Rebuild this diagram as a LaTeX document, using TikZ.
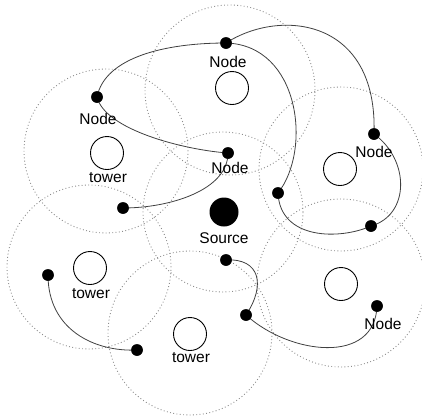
\documentclass[tikz,border=0pt]{standalone}
\usepackage{fontspec}
\setmainfont{Liberation Sans}
\begin{document}
\begin{tikzpicture}[x=1pt,y=-1pt,
  cover/.style={circle,draw=black!45,line width=0.9pt,dash pattern=on 0.9pt off 2.4pt,inner sep=0pt},
  link/.style={draw=black!75,line width=0.8pt},
  dotnode/.style={circle,fill=black,inner sep=0pt,minimum size=11.5pt},
  srcnode/.style={circle,fill=black,inner sep=0pt,minimum size=29pt},
  towernode/.style={circle,draw=black,line width=0.9pt,fill=white,inner sep=0pt,minimum size=33pt},
  lbl/.style={inner sep=0pt,font=\fontsize{15.5pt}{18pt}\selectfont}]
\useasboundingbox (0,0) rectangle (422,416);
% coverage areas
\node[cover,minimum size=170pt] (cA) at (230,90) {};
\node[cover,minimum size=164pt] (cT2) at (106,151) {};
\node[cover,minimum size=164pt] (cT3) at (341,169) {};
\node[cover,minimum size=160pt] (cS) at (223,212) {};
\node[cover,minimum size=164pt] (cT4) at (89,267) {};
\node[cover,minimum size=164pt] (cT5) at (190,333) {};
\node[cover,minimum size=168pt] (cT6) at (341,283) {};
% towers
\node[towernode] (t1) at (232,88) {};
\node[towernode] (t2) at (107,153) {};
\node[towernode] (t3) at (340,169) {};
\node[towernode] (t4) at (90,268) {};
\node[towernode] (t5) at (190,334) {};
\node[towernode] (t6) at (341,284) {};
% nodes
\node[dotnode] (d1) at (226,43) {};
\node[dotnode] (d2) at (97,97) {};
\node[dotnode] (d3) at (228,153) {};
\node[dotnode] (d4) at (374,134) {};
\node[dotnode] (d5) at (123,208) {};
\node[dotnode] (d6) at (278,193) {};
\node[dotnode] (d7) at (371,226) {};
\node[dotnode] (d8) at (226,260) {};
\node[dotnode] (d9) at (48,275) {};
\node[dotnode] (d10) at (246,315) {};
\node[dotnode] (d11) at (137,350) {};
\node[dotnode] (d12) at (377,306) {};
\node[srcnode] (src) at (224,212) {};
% connectors
\draw[link] (d2.center) .. controls (105,57) and (166,43) .. (d1.center);
\draw[link] (d1.center) .. controls (280,8) and (378,18) .. (d4.center);
\draw[link] (d1.center) .. controls (300,45) and (312,150) .. (d6.center);
\draw[link] (d2.center) .. controls (105,130) and (185,150) .. (d3.center);
\draw[link] (d3.center) .. controls (228,190) and (170,208) .. (d5.center);
\draw[link] (d4.center) .. controls (410,160) and (410,215) .. (d7.center);
\draw[link] (d6.center) .. controls (280,240) and (340,240) .. (d7.center);
\draw[link] (d8.center) .. controls (260,258) and (266,285) .. (d10.center);
\draw[link] (d10.center) .. controls (290,355) and (375,365) .. (d12.center);
\draw[link] (d9.center) .. controls (48,330) and (95,352) .. (d11.center);
% redraw dots above connectors
\foreach \n in {d1,d2,d3,d4,d5,d6,d7,d8,d9,d10,d11,d12}{\fill (\n) circle (5.75pt);}
% labels
\node[lbl] (l1) at (228,62) {Node};
\node[lbl] (l2) at (98,119) {Node};
\node[lbl] (l3) at (230,168) {Node};
\node[lbl] (l4) at (374,152) {Node};
\node[lbl] (l12) at (383,324) {Node};
\node[lbl] (ls) at (224,238) {Source};
\node[lbl] (lt2) at (108,178) {tower};
\node[lbl] (lt4) at (91,294) {tower};
\node[lbl] (lt5) at (191,358) {tower};
\end{tikzpicture}
\end{document}
